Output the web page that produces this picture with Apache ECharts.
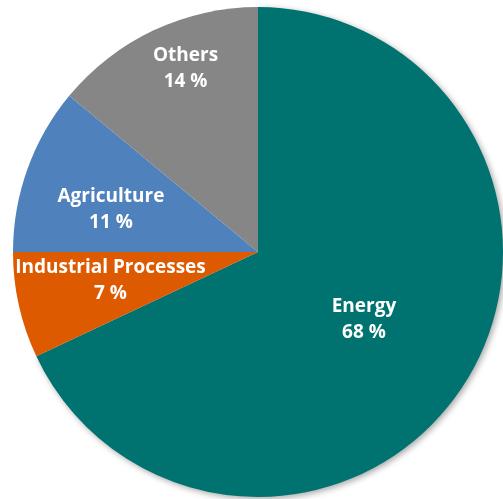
<!DOCTYPE html>
<html>
<head>
<meta charset="utf-8">
<script src="https://cdn.jsdelivr.net/npm/echarts@6/dist/echarts.min.js"></script>
<style>html,body{margin:0;padding:0;background:#fff;}#c{width:503px;height:499px;}</style>
</head>
<body>
<div id="c"></div>
<script>
const categories = ['Energy', 'Industrial Processes', 'Agriculture', 'Others'];
const shares = [68, 7, 11, 14];
const colors = ['#007370', '#DD5A00', '#4F81BD', '#868686'];
const labelOffsets = [[0, 0], [-25, 1], [-29, 0], [-19, -70]];

const chart = echarts.init(document.getElementById('c'));
chart.setOption({
  backgroundColor: '#ffffff',
  animation: false,
  series: [{
    type: 'pie',
    center: [258, 252],
    radius: [0, 245],
    startAngle: 90,
    clockwise: true,
    avoidLabelOverlap: false,
    data: categories.map((n, i) => ({
      name: n,
      value: shares[i],
      itemStyle: Object.assign({ color: colors[i] }, i === 0 ? { shadowBlur: 6, shadowColor: 'rgba(0,0,0,0.35)', shadowOffsetX: 2, shadowOffsetY: 2 } : {})
    })),
    label: {
      show: true,
      position: 'inside',
      formatter: p => p.name + '\n' + p.value + ' %',
      color: '#ffffff',
      fontFamily: 'Open Sans',
      fontWeight: 'bold',
      fontSize: 19,
      lineHeight: 26,
      align: 'center'
    },
    labelLine: { show: false },
    labelLayout: p => ({ dx: labelOffsets[p.dataIndex][0], dy: labelOffsets[p.dataIndex][1] })
  }]
});
</script>
</body>
</html>
